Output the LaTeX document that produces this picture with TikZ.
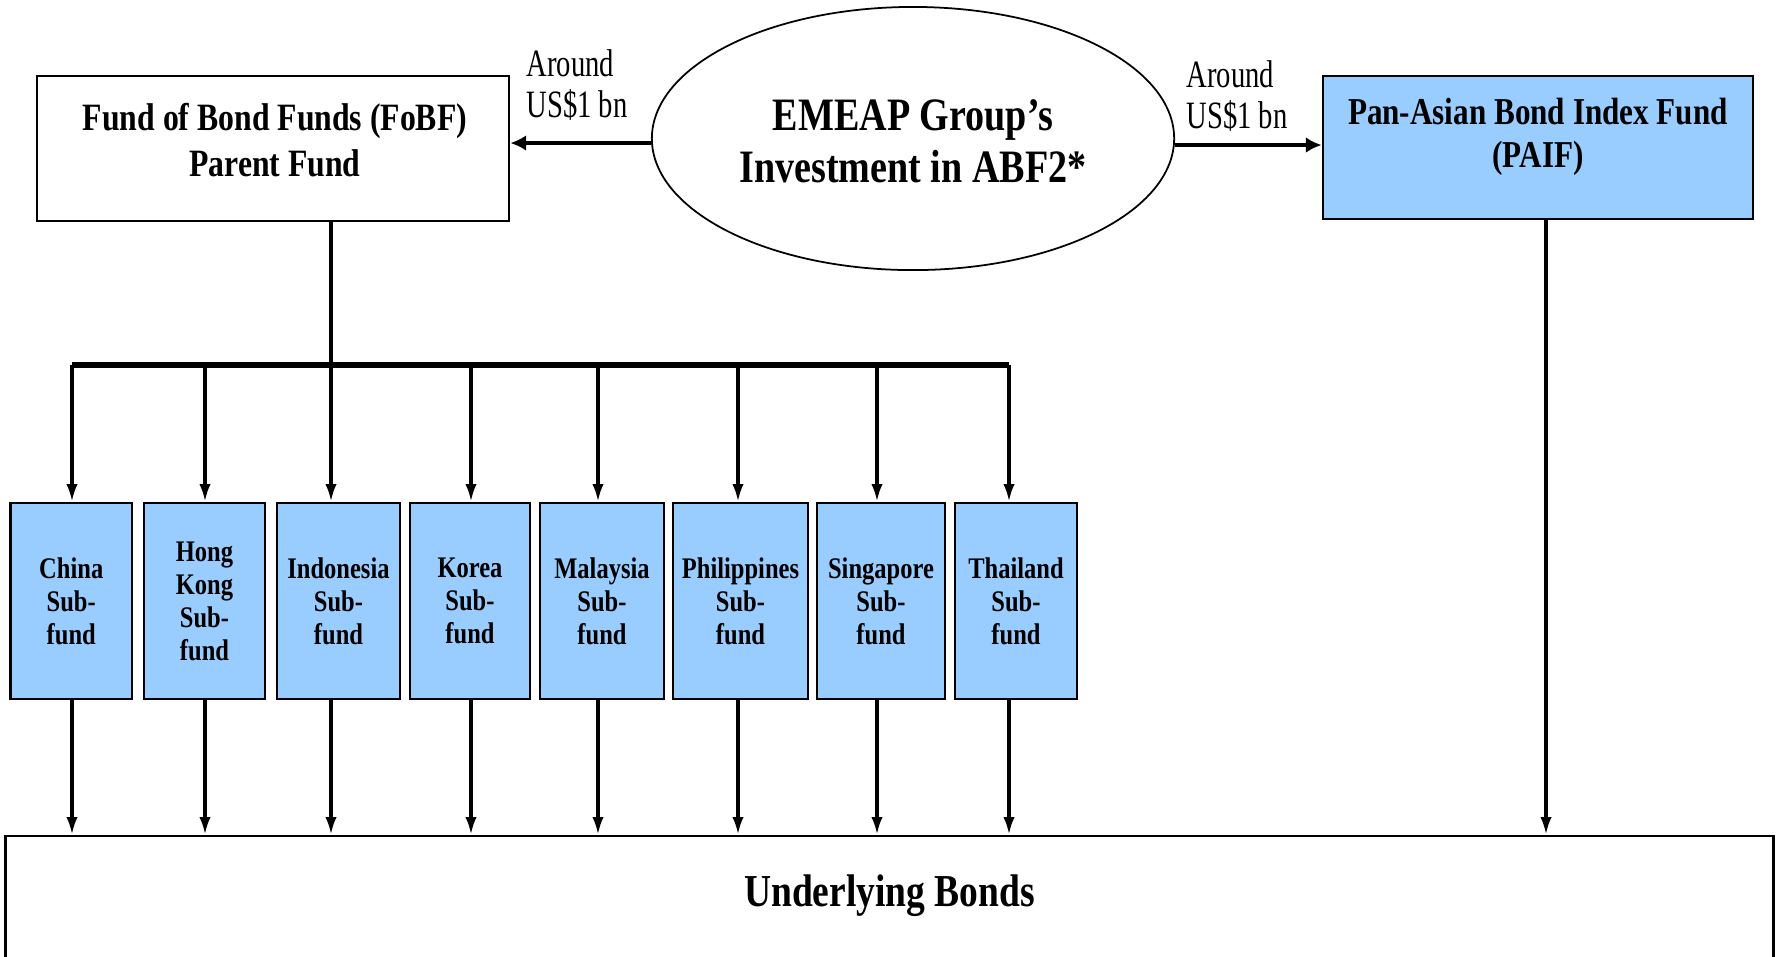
\documentclass[tikz,border=0pt]{standalone}
\usepackage{fontspec}
\setmainfont[FakeStretch=0.82]{Liberation Serif}
\newfontfamily\narrowfont[FakeStretch=0.74]{Liberation Serif}
\usetikzlibrary{arrows.meta,shapes.geometric}
\definecolor{subblue}{HTML}{99CCFF}

\begin{document}
\begin{tikzpicture}[x=0.01cm,y=-0.01cm,
  box/.style={draw,line width=0.7pt,inner sep=0pt},
  subbox/.style={box,fill=subblue,minimum width=#1,minimum height=1.96cm,align=center,
    font=\bfseries\fontsize{8.5}{9.4}\selectfont},
  boxtext/.style={align=center,inner sep=0pt},
  amount/.style={align=left,inner sep=0pt,font=\narrowfont\fontsize{11}{11.6}\selectfont},
  feed/.style={line width=0.9pt,-{Latex[length=5pt,width=3.2pt]}},
  flow/.style={line width=1.4pt,-{Latex[length=4.5pt,width=4.5pt]}}]
\useasboundingbox (0,0) rectangle (1779,956);
\clip (0,0) rectangle (1779,956);

% top row
\node (parent) [box,minimum width=4.72cm,minimum height=1.45cm] at (273,148.5) {};
\node (parenttxt) [boxtext,font=\bfseries\fontsize{11}{13.2}\selectfont] at (275,140)
  {Fund of Bond Funds (FoBF)\\Parent Fund};

\node (emeap) [draw,ellipse,line width=0.5pt,minimum width=5.22cm,minimum height=2.63cm]
  at (913,138.5) {};
\node (emeaptxt) [boxtext,font=\bfseries\fontsize{13.2}{14.8}\selectfont] at (913,141)
  {EMEAP Group's\\Investment in ABF2*};

\node (paif) [box,fill=subblue,minimum width=4.30cm,minimum height=1.43cm] at (1538,147.5) {};
\node (paiftxt) [boxtext,font=\bfseries\fontsize{10.8}{12.2}\selectfont] at (1538,137)
  {Pan-Asian Bond Index Fund\\(PAIF)};

\node (leftamt) [amount] at (577,85) {Around\\US\$1 bn};
\node (rightamt) [amount] at (1237,96) {Around\\US\$1 bn};

\draw[flow] ([yshift=-0.045cm]emeap.west) -- ([yshift=-0.045cm]emeap.west -| parent.east);
\draw[flow] ([yshift=-0.065cm]emeap.east) -- ([yshift=-0.065cm]emeap.east -| paif.west);

% bottom box
\node (bonds) [box,minimum width=17.67cm,minimum height=2.2cm] at (889.5,946) {};
\node (bondstxt) [boxtext,font=\bfseries\fontsize{13}{15}\selectfont] at (889.5,896) {Underlying Bonds};

% sub-funds
\foreach \nm/\cx/\bw/\ax/\lbl in {
  china/71.25/1.215/72/{China\\Sub-\\fund},
  hk/204.5/1.21/205/{Hong\\Kong\\Sub-\\fund},
  indo/338.5/1.23/331/{Indonesia\\Sub-\\fund},
  korea/470/1.20/471/{Korea\\Sub-\\fund},
  malay/602/1.24/598/{Malaysia\\Sub-\\fund},
  phil/740.5/1.35/738/{Philippines\\Sub-\\fund},
  sing/881/1.28/877/{Singapore\\Sub-\\fund},
  thai/1016/1.22/1009/{Thailand\\Sub-\\fund}}{
  \node (\nm) [subbox=\bw cm] at (\cx,601) {\lbl};
  \coordinate (bus\nm) at (\ax,365);
  \draw[feed] (bus\nm) -- (bus\nm |- \nm.north);
  \draw[feed] (bus\nm |- \nm.south) -- (bus\nm |- bonds.north);
}

\draw[line width=1.8pt] (buschina) -- (busthai);
\draw[line width=0.9pt] (parent.south -| busindo) -- (busindo);

\draw[feed] ([xshift=0.08cm]paif.south) -- ([xshift=0.08cm]paif.south |- bonds.north);

\end{tikzpicture}
\end{document}
